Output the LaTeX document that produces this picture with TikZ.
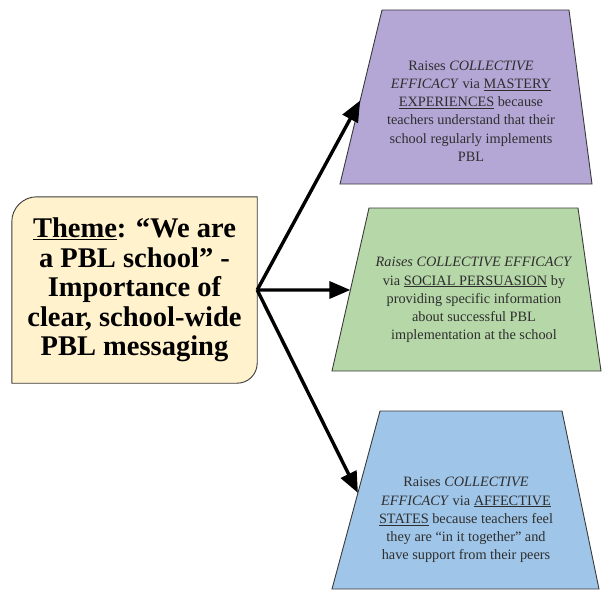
\documentclass[tikz,border=0pt]{standalone}
\usepackage{fontspec}
\setmainfont{Liberation Serif}
\usetikzlibrary{arrows.meta,calc}

\definecolor{themefill}{HTML}{FFF2CC}
\definecolor{purplefill}{HTML}{B4A7D6}
\definecolor{greenfill}{HTML}{B6D7A8}
\definecolor{bluefill}{HTML}{9FC5E8}
\definecolor{edgegray}{HTML}{3A3A3A}
\definecolor{bodytext}{HTML}{2E2E2E}

\begin{document}
\begin{tikzpicture}[x=1pt,y=-1pt,
  outline/.style={draw=edgegray, line width=0.9pt, line join=miter},
  themetxt/.style={font=\fontsize{28.5}{29.5}\selectfont\bfseries, align=center, text=black, inner sep=0pt},
  bodytxt/.style={font=\fontsize{14.3}{18.2}\selectfont, align=center, text=bodytext, inner sep=0pt},
  link/.style={line width=3.4pt, -{Triangle[length=21pt,width=17pt]}}
]
\useasboundingbox (0,0) rectangle (602,594);

% theme box: rounded top-left and bottom-right corners
\node (theme) [minimum width=245pt, minimum height=186pt, inner sep=0pt] at (134.5,290) {};
\draw[outline, fill=themefill]
  (theme.south west) -- (theme.west)
  [rounded corners=25pt] -- (theme.north west) -- (theme.north)
  [sharp corners] -- (theme.north east) -- (theme.east)
  [rounded corners=20pt] -- (theme.south east) -- (theme.south)
  [sharp corners] -- cycle;
\node[themetxt] (themetext) at (134.5,290)
  {\underline{Theme}: “We are\\ a PBL school” -\\ Importance of\\ clear, school-wide\\ PBL messaging};

% trapezoid corners
\coordinate (ptl) at (382,10);  \coordinate (ptr) at (569,10);
\coordinate (pbr) at (592,184); \coordinate (pbl) at (340,184);
\coordinate (gtl) at (369,208); \coordinate (gtr) at (578,208);
\coordinate (gbr) at (601,371); \coordinate (gbl) at (332,371);
\coordinate (btl) at (380,411); \coordinate (btr) at (562,411);
\coordinate (bbr) at (599,589); \coordinate (bbl) at (332,589);

\draw[outline, fill=purplefill] (ptl) -- (ptr) -- (pbr) -- (pbl) -- cycle;
\draw[outline, fill=greenfill]  (gtl) -- (gtr) -- (gbr) -- (gbl) -- cycle;
\draw[outline, fill=bluefill]   (btl) -- (btr) -- (bbr) -- (bbl) -- cycle;

\node[bodytxt] (mastery) at (471,111)
  {Raises \textit{COLLECTIVE}\\ \textit{EFFICACY} via \underline{MASTERY}\\ \underline{EXPERIENCES} because\\ teachers understand that their\\ school regularly implements\\ PBL};
\node[bodytxt] (social) at (474,300)
  {\textit{Raises COLLECTIVE EFFICACY}\\ via \underline{SOCIAL PERSUASION} by\\ providing specific information\\ about successful PBL\\ implementation at the school};
\node[bodytxt] (affective) at (466,520)
  {Raises \textit{COLLECTIVE}\\ \textit{EFFICACY} via \underline{AFFECTIVE}\\ \underline{STATES} because teachers feel\\ they are “in it together” and\\ have support from their peers};

% arrow ends on the left slanted edges
\coordinate (pin) at ($(ptl)!0.52!(pbl)$);
\coordinate (gin) at ($(gtl)!0.503!(gbl)$);
\coordinate (bin) at ($(btl)!0.46!(bbl)$);

\draw[link] (theme.east) -- (pin);
\draw[link] (theme.east) -- (gin);
\draw[link] (theme.east) -- (bin);
\end{tikzpicture}
\end{document}
